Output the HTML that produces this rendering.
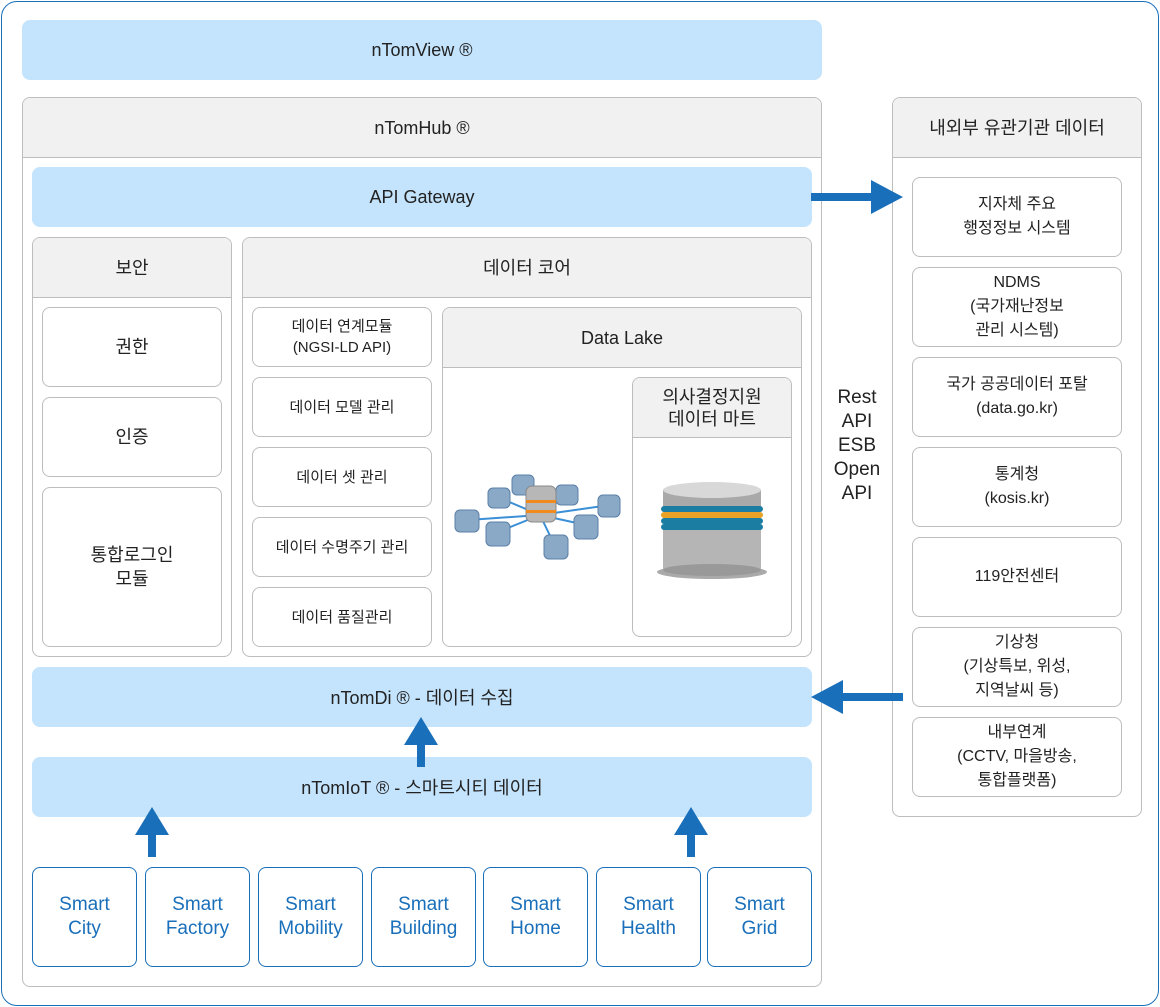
<!DOCTYPE html>
<html><head><meta charset="utf-8"><style>
*{box-sizing:border-box;margin:0;padding:0}
body{width:1160px;height:1007px;background:#fff;font-family:"Liberation Sans","Noto Sans CJK KR",sans-serif;color:#222;position:relative;overflow:hidden}
.a{position:absolute;display:flex;align-items:center;justify-content:center;text-align:center}
.blue{background:#c4e4fd;border-radius:8px;font-size:18px}
.box{background:#fff;border:1px solid #bdbdbd;border-radius:8px;font-size:15px;line-height:21px}
.pan{position:absolute;border:1px solid #bdbdbd;border-radius:8px;background:#fff;overflow:hidden}
.hd{position:absolute;left:0;right:0;top:0;background:#f1f1f1;border-bottom:1px solid #bdbdbd;display:flex;align-items:center;justify-content:center;font-size:18px;text-align:center;line-height:22px}
.sm{position:absolute;border:1.5px solid #1a6fba;border-radius:8px;color:#1a6fba;font-size:19px;line-height:24px;display:flex;align-items:center;justify-content:center;text-align:center;top:867px;height:100px;font-weight:500}
.big{font-size:18px;line-height:24px}
</style></head><body>
<div style="position:absolute;left:1px;top:1px;width:1158px;height:1005px;border:1.5px solid #1a6fba;border-radius:16px"></div>
<div class="a blue" style="left:22px;top:20px;width:800px;height:60px">nTomView ®</div>

<div class="pan" style="left:22px;top:97px;width:800px;height:890px"><div class="hd" style="height:60px">nTomHub ®</div></div>
<div class="a blue" style="left:32px;top:167px;width:780px;height:60px">API Gateway</div>

<div class="pan" style="left:32px;top:237px;width:200px;height:420px"><div class="hd" style="height:60px">보안</div></div>
<div class="a box big" style="left:42px;top:307px;width:180px;height:80px">권한</div>
<div class="a box big" style="left:42px;top:397px;width:180px;height:80px">인증</div>
<div class="a box big" style="left:42px;top:487px;width:180px;height:160px">통합로그인<br>모듈</div>

<div class="pan" style="left:242px;top:237px;width:570px;height:420px"><div class="hd" style="height:60px">데이터 코어</div></div>
<div class="a box" style="left:252px;top:307px;width:180px;height:60px">데이터 연계모듈<br>(NGSI-LD API)</div>
<div class="a box" style="left:252px;top:377px;width:180px;height:60px">데이터 모델 관리</div>
<div class="a box" style="left:252px;top:447px;width:180px;height:60px">데이터 셋 관리</div>
<div class="a box" style="left:252px;top:517px;width:180px;height:60px">데이터 수명주기 관리</div>
<div class="a box" style="left:252px;top:587px;width:180px;height:60px">데이터 품질관리</div>

<div class="pan" style="left:442px;top:307px;width:360px;height:340px"><div class="hd" style="height:60px">Data Lake</div></div>
<div class="pan" style="left:632px;top:377px;width:160px;height:260px"><div class="hd" style="height:60px">의사결정지원<br>데이터 마트</div></div>

<svg style="position:absolute;left:450px;top:470px" width="180" height="100" viewBox="0 0 180 100">
<g stroke="#3b8fd6" stroke-width="2"><line x1="90" y1="45" x2="18" y2="50"/><line x1="90" y1="45" x2="50" y2="28"/><line x1="90" y1="45" x2="48" y2="62"/><line x1="90" y1="45" x2="106" y2="78"/><line x1="90" y1="45" x2="136" y2="55"/><line x1="90" y1="45" x2="160" y2="35"/><line x1="90" y1="45" x2="117" y2="25"/><line x1="90" y1="45" x2="75" y2="15"/></g>
<g fill="#8aa9c7" stroke="#5b7fa6"><rect x="5" y="40" width="24" height="22" rx="5"/><rect x="38" y="18" width="22" height="20" rx="5"/><rect x="62" y="5" width="22" height="20" rx="5"/><rect x="106" y="15" width="22" height="20" rx="5"/><rect x="148" y="25" width="22" height="22" rx="5"/><rect x="124" y="45" width="24" height="24" rx="5"/><rect x="94" y="65" width="24" height="24" rx="5"/><rect x="36" y="52" width="24" height="24" rx="5"/></g>
<rect x="76" y="16" width="30" height="36" rx="6" fill="#b7b7b7" stroke="#888"/><rect x="76" y="30" width="30" height="3" fill="#f08a1c"/><rect x="76" y="40" width="30" height="3" fill="#f08a1c"/>
</svg>
<svg style="position:absolute;left:655px;top:480px" width="115" height="100" viewBox="0 0 115 100">
<ellipse cx="57" cy="92" rx="55" ry="7" fill="#555" opacity=".5"/>
<rect x="8" y="48" width="98" height="42" fill="#b5b5b5"/><ellipse cx="57" cy="90" rx="49" ry="6" fill="#999"/>
<rect x="6" y="26" width="102" height="6" rx="3" fill="#1c7da3"/><rect x="6" y="32" width="102" height="6" rx="3" fill="#e8a227"/><rect x="6" y="38" width="102" height="6" rx="3" fill="#1c7da3"/><rect x="6" y="44" width="102" height="6" rx="3" fill="#1c7da3"/>
<rect x="8" y="10" width="98" height="16" fill="#a9a9a9"/><ellipse cx="57" cy="10" rx="49" ry="8" fill="#d8d8d8"/>
</svg>

<div class="a blue" style="left:32px;top:667px;width:780px;height:60px">nTomDi ® - 데이터 수집</div>
<div class="a blue" style="left:32px;top:757px;width:780px;height:60px">nTomIoT ® - 스마트시티 데이터</div>

<div class="sm" style="left:32px;width:105px">Smart<br>City</div>
<div class="sm" style="left:145px;width:105px">Smart<br>Factory</div>
<div class="sm" style="left:258px;width:105px">Smart<br>Mobility</div>
<div class="sm" style="left:371px;width:105px">Smart<br>Building</div>
<div class="sm" style="left:483px;width:105px">Smart<br>Home</div>
<div class="sm" style="left:596px;width:105px">Smart<br>Health</div>
<div class="sm" style="left:707px;width:105px">Smart<br>Grid</div>

<div class="a" style="left:822px;top:386px;width:70px;height:120px;font-size:19px;line-height:24px">Rest<br>API<br>ESB<br>Open<br>API</div>

<div class="pan" style="left:892px;top:97px;width:250px;height:720px"><div class="hd" style="height:60px">내외부 유관기관 데이터</div></div>
<div class="a box big" style="left:912px;top:177px;width:210px;height:80px;font-size:16px">지자체 주요<br>행정정보 시스템</div>
<div class="a box big" style="left:912px;top:267px;width:210px;height:80px;font-size:16px">NDMS<br>(국가재난정보<br>관리 시스템)</div>
<div class="a box big" style="left:912px;top:357px;width:210px;height:80px;font-size:16px">국가 공공데이터 포탈<br>(data.go.kr)</div>
<div class="a box big" style="left:912px;top:447px;width:210px;height:80px;font-size:16px">통계청<br>(kosis.kr)</div>
<div class="a box big" style="left:912px;top:537px;width:210px;height:80px;font-size:16px">119안전센터</div>
<div class="a box big" style="left:912px;top:627px;width:210px;height:80px;font-size:16px">기상청<br>(기상특보, 위성,<br>지역날씨 등)</div>
<div class="a box big" style="left:912px;top:717px;width:210px;height:80px;font-size:16px">내부연계<br>(CCTV, 마을방송,<br>통합플랫폼)</div>

<svg style="position:absolute;left:0;top:0" width="1160" height="1007">
<g fill="#1a6fba">
<polygon points="152,807 135,835 148,835 148,857 156,857 156,835 169,835"/>
<polygon points="691,807 674,835 687,835 687,857 695,857 695,835 708,835"/>
<polygon points="421,717 404,745 417,745 417,767 425,767 425,745 438,745"/>
<polygon points="811,193 871,193 871,180 903,197 871,214 871,201 811,201"/>
<polygon points="903,693 843,693 843,680 811,697 843,714 843,701 903,701"/>
</g></svg>
</body></html>
